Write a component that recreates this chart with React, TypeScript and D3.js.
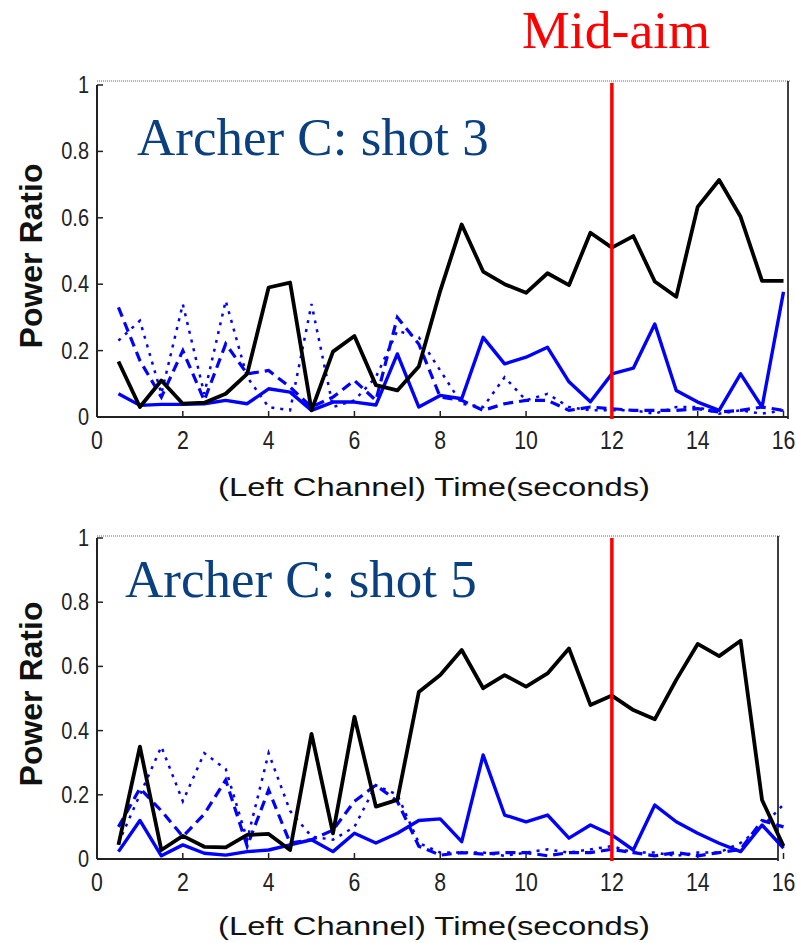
import React from "react";
import * as d3 from "d3";

// ---------- DATA ----------
const TIMES = [0.5, 1, 1.5, 2, 2.5, 3, 3.5, 4, 4.5, 5, 5.5, 6, 6.5, 7, 7.5, 8, 8.5, 9, 9.5, 10, 10.5, 11, 11.5, 12, 12.5, 13, 13.5, 14, 14.5, 15, 15.5, 16];
const X_TICKS = [0, 2, 4, 6, 8, 10, 12, 14, 16];
const Y_TICKS = [0, 0.2, 0.4, 0.6, 0.8, 1];
const Y_TICK_LABELS = ["0", "0.2", "0.4", "0.6", "0.8", "1"];
const MID_AIM_TIME = 12;

// Archer C: shot 3
const shot3Black = [0.167, 0.03, 0.11, 0.04, 0.043, 0.07, 0.13, 0.39, 0.405, 0.02, 0.197, 0.244, 0.096, 0.08, 0.152, 0.38, 0.58, 0.438, 0.40, 0.374, 0.433, 0.397, 0.555, 0.51, 0.545, 0.408, 0.362, 0.633, 0.714, 0.603, 0.41, 0.41];
const shot3Solid = [0.07, 0.035, 0.038, 0.038, 0.04, 0.05, 0.04, 0.085, 0.075, 0.02, 0.045, 0.045, 0.036, 0.19, 0.03, 0.065, 0.055, 0.24, 0.16, 0.18, 0.21, 0.106, 0.046, 0.13, 0.147, 0.28, 0.08, 0.045, 0.02, 0.13, 0.03, 0.377];
const shot3Dashed = [0.33, 0.17, 0.06, 0.2, 0.05, 0.22, 0.13, 0.14, 0.09, 0.03, 0.06, 0.11, 0.05, 0.30, 0.22, 0.06, 0.05, 0.02, 0.04, 0.05, 0.05, 0.02, 0.03, 0.025, 0.02, 0.02, 0.02, 0.025, 0.015, 0.02, 0.03, 0.02];
const shot3Dotted = [0.23, 0.29, 0.07, 0.34, 0.07, 0.35, 0.12, 0.03, 0.02, 0.34, 0.03, 0.05, 0.12, 0.26, 0.24, 0.14, 0.04, 0.03, 0.12, 0.05, 0.07, 0.03, 0.02, 0.02, 0.02, 0.01, 0.03, 0.03, 0.01, 0.02, 0.01, 0.02];

// Archer C: shot 5
const shot5Black = [0.044, 0.35, 0.028, 0.072, 0.038, 0.036, 0.075, 0.078, 0.028, 0.39, 0.08, 0.443, 0.163, 0.184, 0.52, 0.573, 0.651, 0.532, 0.573, 0.537, 0.578, 0.656, 0.48, 0.509, 0.464, 0.435, 0.558, 0.67, 0.632, 0.68, 0.184, 0.04];
const shot5Solid = [0.023, 0.12, 0.01, 0.044, 0.018, 0.012, 0.023, 0.028, 0.044, 0.06, 0.023, 0.08, 0.05, 0.08, 0.12, 0.125, 0.054, 0.324, 0.137, 0.116, 0.137, 0.065, 0.106, 0.075, 0.028, 0.168, 0.116, 0.08, 0.049, 0.023, 0.106, 0.034];
const shot5Dashed = [0.1, 0.22, 0.15, 0.07, 0.14, 0.246, 0.04, 0.215, 0.05, 0.06, 0.09, 0.18, 0.23, 0.18, 0.04, 0.012, 0.02, 0.015, 0.02, 0.02, 0.01, 0.02, 0.02, 0.03, 0.02, 0.01, 0.02, 0.01, 0.02, 0.03, 0.12, 0.1];
const shot5Dotted = [0.05, 0.2, 0.35, 0.18, 0.33, 0.28, 0.06, 0.33, 0.15, 0.07, 0.06, 0.1, 0.23, 0.2, 0.05, 0.02, 0.02, 0.02, 0.01, 0.02, 0.03, 0.02, 0.03, 0.04, 0.02, 0.02, 0.01, 0.02, 0.02, 0.05, 0.1, 0.17];

const PANELS = [
  { title: "Archer C: shot 3", black: shot3Black, solid: shot3Solid, dashed: shot3Dashed, dotted: shot3Dotted },
  { title: "Archer C: shot 5", black: shot5Black, solid: shot5Solid, dashed: shot5Dashed, dotted: shot5Dotted },
];

// ---------- LAYOUT ----------
const W = 796;
const H = 943;
const X_LEFT = 97;
const X_RIGHT = 783.5;
const LAYOUTS = [
  { yTop: 85, yBottom: 417, boxTop: 81, boxRight: 788, titleX: 137, titleY: 155, tickY: 449, labelY: 496, yLabelY: 256 },
  { yTop: 538, yBottom: 859, boxTop: 536, boxRight: 778, titleX: 125, titleY: 597, tickY: 891, labelY: 935, yLabelY: 694 },
];

const SANS = "'Liberation Sans', Arial, Helvetica, sans-serif";
const SERIF = "'Liberation Serif', 'Times New Roman', serif";

function Panel({ data, lay }) {
  const x = d3.scaleLinear().domain([0, 16]).range([X_LEFT, X_RIGHT]);
  const y = d3.scaleLinear().domain([0, 1]).range([lay.yBottom, lay.yTop]);
  const line = (vals) =>
    d3.line().x((_, i) => x(TIMES[i])).y((v) => y(v))(vals);

  return (
    <g>
      {/* box */}
      <line x1={X_LEFT} x2={lay.boxRight + 2} y1={lay.boxTop} y2={lay.boxTop} stroke="#666" strokeWidth={1} strokeDasharray="1,1" />
      <line x1={lay.boxRight} x2={lay.boxRight} y1={lay.boxTop} y2={lay.yBottom + 2} stroke="#000" strokeWidth={1.5} />
      <line x1={X_LEFT} x2={lay.boxRight} y1={lay.yBottom} y2={lay.yBottom} stroke="#222" strokeWidth={2} />
      <line x1={X_LEFT} x2={X_LEFT} y1={lay.yTop} y2={lay.yBottom} stroke="#222" strokeWidth={2} />

      {/* y ticks */}
      {Y_TICKS.map((t, i) => (
        <g key={"yt" + i}>
          <line x1={X_LEFT} x2={X_LEFT + 6} y1={y(t)} y2={y(t)} stroke="#222" strokeWidth={1.5} />
          <text
            transform={`translate(89,${y(t) + 8}) scale(0.95,1.12)`}
            textAnchor="end"
            fontFamily={SANS}
            fontSize={21}
            fill="#222"
          >
            {Y_TICK_LABELS[i]}
          </text>
        </g>
      ))}
      {/* x ticks */}
      {X_TICKS.map((t, i) => (
        <g key={"xt" + i}>
          <line x1={x(t)} x2={x(t)} y1={lay.yBottom} y2={lay.yBottom - 6} stroke="#222" strokeWidth={1.5} />
          <text
            transform={`translate(${x(t)},${lay.tickY}) scale(0.85,1)`}
            textAnchor="middle"
            fontFamily={SANS}
            fontSize={25}
            fill="#222"
          >
            {String(t)}
          </text>
        </g>
      ))}

      {/* series */}
      <path d={line(data.dotted)} fill="none" stroke="#0000ff" strokeWidth={2.5} strokeDasharray="3,6" />
      <path d={line(data.dashed)} fill="none" stroke="#0000ff" strokeWidth={3.2} strokeDasharray="10,6" />
      <path d={line(data.solid)} fill="none" stroke="#0000ff" strokeWidth={3.4} strokeLinejoin="round" />
      <path d={line(data.black)} fill="none" stroke="#000" strokeWidth={3.8} strokeLinejoin="round" />

      {/* mid-aim marker */}
      <line x1={x(MID_AIM_TIME)} x2={x(MID_AIM_TIME)} y1={lay.boxTop + 2} y2={lay.yBottom + 2} stroke="#ff0000" strokeWidth={3.5} />

      {/* title */}
      <text x={lay.titleX} y={lay.titleY} fontFamily={SERIF} fontSize={53} fill="#0a4080">
        {data.title}
      </text>

      {/* axis labels */}
      <text x={434} y={lay.labelY} textAnchor="middle" fontFamily={SANS} fontSize={26} fill="#111" textLength={432} lengthAdjust="spacingAndGlyphs">
        (Left Channel) Time(seconds)
      </text>
      <text
        transform={`translate(42,${lay.yLabelY}) rotate(-90)`}
        textAnchor="middle"
        fontFamily={SANS}
        fontSize={32}
        fontWeight="bold"
        fill="#111"
      >
        Power Ratio
      </text>
    </g>
  );
}

export default function App() {
  return (
    <svg width={W} height={H} style={{ position: "absolute", left: 0, top: 0, background: "#fff" }}>
      <rect width={W} height={H} fill="#fff" />
      <text x={522} y={48} fontFamily={SERIF} fontSize={53} fill="#ff0000" textLength={188} lengthAdjust="spacingAndGlyphs">
        Mid-aim
      </text>
      {PANELS.map((p, i) => (
        <Panel key={i} data={p} lay={LAYOUTS[i]} />
      ))}
    </svg>
  );
}
